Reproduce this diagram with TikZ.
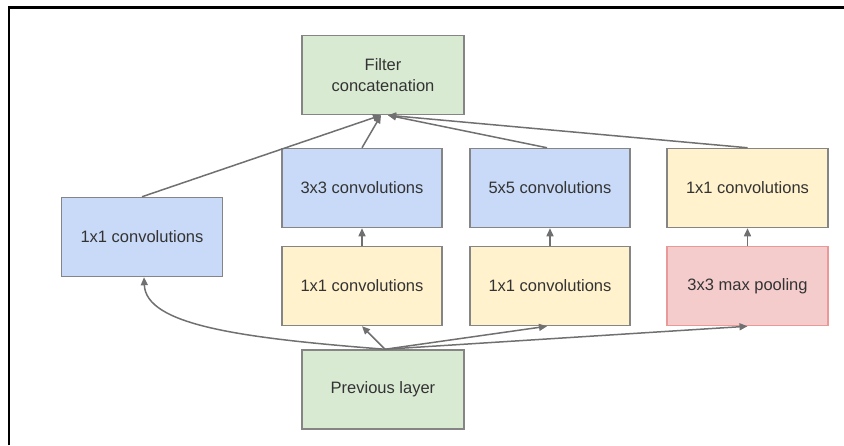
\documentclass[tikz,border=0pt]{standalone}
\usepackage{fontspec}
\setmainfont{Liberation Sans}
\usetikzlibrary{arrows.meta}
\definecolor{gfill}{HTML}{D9EAD3}
\definecolor{bfill}{HTML}{C9DAF8}
\definecolor{yfill}{HTML}{FFF2CC}
\definecolor{rfill}{HTML}{F4CCCC}
\definecolor{rline}{HTML}{EA9999}
\definecolor{bline}{HTML}{858585}
\definecolor{aline}{HTML}{707070}
\definecolor{txt}{HTML}{333333}
\begin{document}
\begin{tikzpicture}[x=1pt,y=-1pt,
  box/.style={draw=bline,line width=1.5pt,minimum height=79pt,inner sep=0pt,
    text=txt,font=\fontsize{16.5}{21}\selectfont,align=center},
  gbox/.style={box,fill=gfill,minimum width=162pt},
  bbox/.style={box,fill=bfill,minimum width=160pt},
  ybox/.style={box,fill=yfill,minimum width=160pt},
  rbox/.style={box,fill=rfill,draw=rline,minimum width=161pt},
  arr/.style={draw=aline,line width=1.5pt,-{Triangle[length=8pt,width=7pt]}}]
\useasboundingbox (0,0) rectangle (844,445);
\draw[line width=2.5pt,black] (9,445) -- (9,7.5) -- (844,7.5);
\node[gbox] (filt) at (383,75) {Filter\\concatenation};
\node[bbox,minimum width=161pt] (lconv) at (142,237) {1x1 convolutions};
\node[bbox] (c3) at (362,188) {3x3 convolutions};
\node[bbox] (c5) at (550,188) {5x5 convolutions};
\node[ybox,minimum width=161pt] (r1) at (747.5,188) {1x1 convolutions};
\node[ybox] (y1) at (362,286) {1x1 convolutions};
\node[ybox] (y2) at (550,286) {1x1 convolutions};
\node[rbox] (pool) at (747.5,286) {3x3 max pooling};
\node[gbox] (prev) at (383,389.5) {Previous layer};
\coordinate (src) at ([xshift=2pt]prev.north);
\coordinate (ft1) at ([xshift=-2pt]filt.south);
\coordinate (ft2) at ([xshift=5pt]filt.south);
\draw[arr] (src) -- (y1.south);
\draw[arr] (src) -- ([xshift=-3pt]y2.south);
\draw[arr] (src) -- (pool.south);
\draw[arr] (src) .. controls (240,338) and (146,325) .. ([xshift=2pt]lconv.south);
\draw[arr] (y1.north) -- (c3.south);
\draw[arr] (y2.north) -- (c5.south);
\draw[arr] (pool.north) -- (r1.north |- r1.south);
\draw[arr] (lconv.north) -- (ft1);
\draw[arr] (c3.north) -- (ft1);
\draw[arr] ([xshift=-3pt]c5.north) -- (ft2);
\draw[arr] (r1.north) -- (ft2);
\end{tikzpicture}
\end{document}
